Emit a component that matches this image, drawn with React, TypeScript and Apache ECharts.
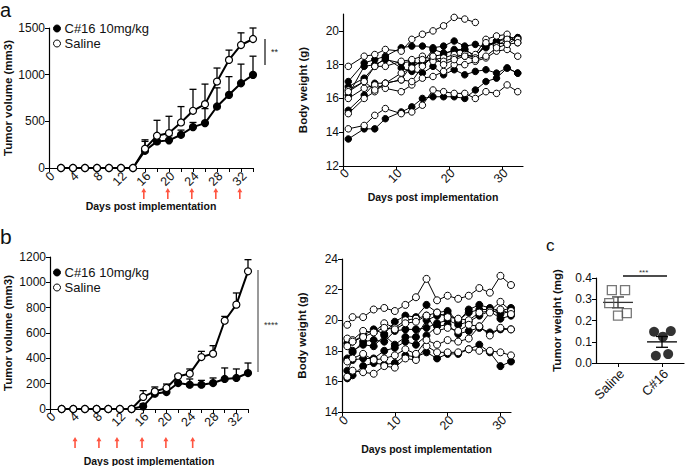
import React, { useEffect, useRef } from 'react';
import * as echarts from 'echarts';

const FONT = 'Liberation Sans, Arial, Helvetica, sans-serif';

// ---------- Panel a: tumor volume ----------
const tumorDays = [2, 4, 6, 8, 10, 12, 14, 16, 18, 20, 22, 24, 26, 28, 30, 32, 34];
const salineA = [0, 0, 0, 0, 0, 0, 0, 207, 346, 374, 488, 613, 684, 926, 1158, 1318, 1382];
const salineAErr = [0, 0, 0, 0, 0, 0, 0, 95, 165, 180, 170, 230, 215, 145, 105, 130, 118];
const c16A = [0, 0, 0, 0, 0, 0, 0, 185, 285, 296, 356, 438, 481, 659, 784, 908, 998];
const c16AErr = [0, 0, 0, 0, 0, 0, 0, 100, 60, 50, 50, 50, 155, 200, 195, 205, 200];
const arrowDaysA = [15.8, 19.8, 23.8, 27.8, 31.8];
const tumorLabels = [0, 4, 8, 12, 16, 20, 24, 28, 32];
const tumorTicks = [0, 2, 4, 6, 8, 10, 12, 14, 16, 18, 20, 22, 24, 26, 28, 30, 32, 34];
const bwLabels = [0, 10, 20, 30];

// ---------- Panel a: body weight ----------
const bwDaysA = [1, 4, 6, 8, 11, 13, 15, 17, 19, 21, 23, 25, 27, 29, 31, 33];
const bwSalineA = [
  [17.9, 18.5, 18.6, 18.9, 18.8, 19.5, 19.8, 20.0, 20.3, 20.8, 20.7, 20.5],
  [14.2, 14.4, 15.0, 15.4, 15.1, 15.2, 15.6, 16.5, 16.4, 16.3, 16.3, 16.0, 16.4, 16.3, 16.8, 16.4],
  [16.0, 16.6, 16.8, 16.6, 16.4, 16.8, 17.2, 17.3, 17.6, 18.0, 18.0, 18.2, 18.4, 18.8, 18.9, 18.5],
  [16.5, 17.0, 17.9, 17.9, 18.2, 18.3, 18.5, 18.3, 18.4, 18.6, 18.5, 18.6, 19.5, 19.7, 19.8, 19.3],
  [15.1, 16.0, 16.4, 16.9, 17.5, 17.8, 18.3, 18.2, 18.2, 18.4, 18.6, 18.4, 19.3, 19.1, 19.5, 19.5],
  [16.4, 17.0, 16.5, 16.9, 17.1, 17.0, 17.9, 18.5, 18.0, 18.3, 18.5, 18.3, 18.5, 19.0, 19.2, 19.3],
];
const bwC16A = [
  [13.6, 14.2, 14.2, 14.8, 15.2, 15.5, 16.0, 16.1, 16.1, 16.1, 16.0, 16.5, 17.0, 17.2, 17.8, 17.5],
  [17.0, 18.1, 18.3, 18.5, 19.0, 19.1, 19.1, 19.0, 19.1, 19.4, 19.1, 19.2, 19.0, 19.4, 19.6, 19.6],
  [16.7, 17.2, 17.9, 18.4, 17.8, 17.6, 17.5, 17.9, 17.4, 17.7, 17.4, 17.6, 17.7, 17.5, 17.8, 17.5],
  [15.3, 16.2, 16.9, 16.9, 17.1, 18.0, 18.1, 18.9, 18.7, 18.8, 18.9, 18.5, 19.2, 19.3, 19.2, 19.6],
  [16.2, 17.9, 18.0, 18.3, 18.1, 18.2, 18.0, 18.5, 18.6, 18.9, 18.9, 18.5, 19.1, 19.4, 19.5, 19.5],
];

// ---------- Panel b: tumor volume ----------
const salineB = [0, 0, 0, 0, 0, 0, 0, 95, 139, 166, 258, 279, 410, 437, 697, 824, 1087];
const salineBErr = [0, 0, 0, 0, 0, 0, 0, 50, 35, 31, 12, 37, 45, 63, 34, 92, 92];
const c16B = [0, 0, 0, 0, 0, 0, 0, 21, 121, 134, 205, 192, 192, 205, 237, 245, 284];
const c16BErr = [0, 0, 0, 0, 0, 0, 0, 20, 20, 30, 10, 45, 34, 40, 87, 71, 79];
const arrowDaysB = [4.3, 8.4, 11.5, 15.8, 19.9, 24.5];

// ---------- Panel b: body weight ----------
const bwDaysB = [1, 2, 4, 6, 8, 10, 12, 14, 16, 18, 20, 22, 24, 26, 28, 30, 32];
const bwSalineB = [
  [19.7, 20.2, 20.2, 20.7, 20.8, 20.6, 21.0, 21.5, 22.7, 21.3, 21.6, 21.4, 21.6, 22.1, 21.8, 22.9, 22.3],
  [18.8, 18.7, 19.3, 19.2, 19.8, 19.5, 20.0, 20.1, 20.3, 20.5, 20.2, 20.1, 20.0, 20.5, 20.6, 21.2, 20.6],
  [16.3, 16.7, 16.6, 16.5, 17.0, 16.9, 17.5, 17.4, 18.3, 17.9, 17.9, 17.9, 18.1, 18.0, 18.0, 17.9, 17.7],
  [17.3, 17.5, 17.8, 17.4, 17.5, 17.7, 18.1, 17.8, 18.7, 18.4, 18.7, 18.6, 18.8, 19.6, 19.0, 19.5, 19.4],
  [18.3, 18.6, 18.9, 19.2, 19.5, 19.4, 19.8, 19.9, 20.3, 19.3, 19.5, 19.3, 19.7, 19.6, 20.5, 20.7, 20.4],
];
const bwC16B = [
  [16.2, 16.4, 17.0, 17.2, 17.1, 17.2, 17.7, 17.6, 17.9, 17.5, 17.8, 17.8, 18.1, 18.4, 17.9, 17.0, 17.3],
  [16.7, 17.4, 17.5, 17.5, 18.0, 18.2, 18.6, 18.4, 19.0, 19.6, 19.7, 19.1, 19.3, 19.5, 19.2, 19.4, 19.4],
  [17.5, 17.9, 18.6, 18.7, 18.6, 19.3, 19.4, 19.4, 19.5, 19.8, 20.0, 19.7, 19.9, 20.3, 20.6, 20.1, 20.3],
  [18.5, 18.6, 19.0, 19.4, 19.1, 19.9, 20.3, 20.2, 21.0, 20.5, 20.6, 19.9, 20.7, 21.0, 20.8, 20.6, 20.8],
  [17.4, 18.0, 18.4, 18.3, 19.0, 18.4, 18.9, 18.9, 20.0, 20.3, 20.4, 20.0, 20.5, 20.7, 20.7, 20.4, 20.6],
];

// ---------- Panel c: tumor weight ----------
const groupsC = ['Saline', 'C#16'];
const salineWeights = [0.343, 0.343, 0.282, 0.223, 0.235];
const salineJitter = [-0.14, 0.16, -0.2, 0.0, 0.2];
const c16Weights = [0.147, 0.124, 0.15, 0.034, 0.042];
const c16Jitter = [-0.18, 0.02, 0.2, -0.14, 0.14];

const mean = (a: number[]) => a.reduce((s, v) => s + v, 0) / a.length;
const sem = (a: number[]) => {
  const m = mean(a);
  const sd = Math.sqrt(a.reduce((s, v) => s + (v - m) * (v - m), 0) / (a.length - 1));
  return sd / Math.sqrt(a.length);
};

const axisText = { color: '#111', fontFamily: FONT, fontSize: 12 };
const nameText = { color: '#111', fontFamily: FONT, fontSize: 10.5, fontWeight: 'bold' as const };
const yNameText = { color: '#111', fontFamily: FONT, fontSize: 11.5, fontWeight: 'bold' as const };
const axisLineStyle = { show: true, onZero: false, lineStyle: { color: '#000', width: 1.2 } };

function errRender(params: any, api: any) {
  const x = api.value(0);
  const y = api.value(1);
  const e = api.value(2);
  if (!e) return { type: 'group', children: [] };
  const p1 = api.coord([x, y]);
  const p2 = api.coord([x, y + e]);
  const st = { stroke: '#000', lineWidth: 1.3 };
  return {
    type: 'group',
    children: [
      { type: 'line', shape: { x1: p1[0], y1: p1[1], x2: p2[0], y2: p2[1] }, style: st },
      { type: 'line', shape: { x1: p2[0] - 3.5, y1: p2[1], x2: p2[0] + 3.5, y2: p2[1] }, style: st },
    ],
  };
}

function meanSemRender(params: any, api: any) {
  const x = api.value(0);
  const m = api.value(1);
  const s = api.value(2);
  const color = params.dataIndex === 0 ? '#333' : '#000';
  const st = { stroke: color, lineWidth: 1.3 };
  const l = api.coord([x - 0.34, m]);
  const r = api.coord([x + 0.34, m]);
  const top = api.coord([x, m + s]);
  const bot = api.coord([x, m - s]);
  const cw = 6;
  return {
    type: 'group',
    children: [
      { type: 'line', shape: { x1: l[0], y1: l[1], x2: r[0], y2: r[1] }, style: st },
      { type: 'line', shape: { x1: top[0], y1: top[1], x2: bot[0], y2: bot[1] }, style: st },
      { type: 'line', shape: { x1: top[0] - cw, y1: top[1], x2: top[0] + cw, y2: top[1] }, style: st },
      { type: 'line', shape: { x1: bot[0] - cw, y1: bot[1], x2: bot[0] + cw, y2: bot[1] }, style: st },
    ],
  };
}

const arrowPath = 'path://M5,0 L10,6 L6.6,6 L6.6,16 L3.4,16 L3.4,6 L0,6 Z';

export default function App() {
  const ref = useRef<HTMLDivElement>(null);
  useEffect(() => {
    document.body.style.margin = '0';
    if (!ref.current) return;
    const chart = echarts.init(ref.current, undefined, { renderer: 'svg' });

    const grid = (left: number, top: number, width: number, height: number) => ({
      left, top, width, height, containLabel: false, outerBoundsMode: 'none',
    });

    const xAxisDef = (gridIndex: number, min: number, max: number, ticks: number[], name: string, nameGap: number) => ({
      type: 'value', gridIndex, min, max,
      name, nameLocation: 'middle', nameGap, nameTextStyle: nameText,
      axisLine: axisLineStyle,
      axisTick: { show: true, length: 4, customValues: ticks, lineStyle: { color: '#000', width: 1 } },
      axisLabel: { show: false },
      splitLine: { show: false },
    });

    const yAxis = (gridIndex: number, min: number, max: number, labels: number[], name: string, nameGap: number, fmt: (v: number) => string) => ({
      type: 'value', gridIndex, min, max,
      name, nameLocation: 'middle', nameGap, nameTextStyle: yNameText,
      axisLine: axisLineStyle,
      axisTick: { show: true, length: 4, customValues: labels, lineStyle: { color: '#000', width: 1 } },
      axisLabel: { ...axisText, margin: 4, customValues: labels, formatter: fmt },
      splitLine: { show: false },
    });
    const plain = (v: number) => String(v);

    const tumorLine = (name: string, data: number[], filled: boolean, xi: number, yi: number) => ({
      type: 'line', name, xAxisIndex: xi, yAxisIndex: yi,
      data: tumorDays.map((d, i) => [d, data[i]]),
      symbol: 'circle', symbolSize: 7, z: filled ? 3 : 4,
      lineStyle: { color: '#000', width: 2 },
      itemStyle: { color: filled ? '#000' : '#fff', borderColor: '#000', borderWidth: 1.2 },
      emphasis: { disabled: true },
    });

    const errSeries = (data: number[], err: number[], xi: number, yi: number) => ({
      type: 'custom', xAxisIndex: xi, yAxisIndex: yi, z: 2,
      data: tumorDays.map((d, i) => [d, data[i], err[i]]),
      encode: { x: 0, y: 1 },
      renderItem: errRender,
    });

    const bwLine = (days: number[], vals: number[], filled: boolean, xi: number, yi: number, size: number) => ({
      type: 'line', xAxisIndex: xi, yAxisIndex: yi,
      data: vals.map((v, i) => [days[i], v]),
      symbol: 'circle', symbolSize: size, z: filled ? 3 : 4,
      lineStyle: { color: '#000', width: 1 },
      itemStyle: { color: filled ? '#000' : '#fff', borderColor: '#000', borderWidth: 1 },
      emphasis: { disabled: true },
    });

    const arrowSeries = (days: number[], xi: number, yi: number) => ({
      type: 'scatter', xAxisIndex: xi, yAxisIndex: yi,
      data: days.map((d) => [d, 0.5]),
      symbol: arrowPath, symbolSize: [5, 11],
      itemStyle: { color: '#ff2a12' },
      emphasis: { disabled: true },
    });

    // Rotated (45°) tick labels drawn at the x axis' own tick positions.
    const tickLabelSeries = (
      xi: number, yi: number, yMin: number, values: number[],
      fmt: (v: number) => string, dx: number, dy: number, size: number,
    ) => ({
      type: 'custom', xAxisIndex: xi, yAxisIndex: yi, z: 10, silent: true, clip: false,
      data: values.map((v) => [v, yMin]),
      encode: { x: 0, y: 1 },
      renderItem: (params: any, api: any) => {
        const v = api.value(0);
        const p = api.coord([v, yMin]);
        return {
          type: 'text',
          x: p[0] + dx,
          y: p[1] + dy,
          rotation: Math.PI / 4,
          style: {
            text: fmt(v),
            font: `${size}px ${FONT}`,
            fill: '#111',
            align: 'right',
            verticalAlign: 'middle',
          },
        };
      },
    });

    const hiddenX = (gridIndex: number) => ({ type: 'value', gridIndex, min: 0, max: 34, show: false });
    const hiddenY = (gridIndex: number) => ({ type: 'value', gridIndex, min: 0, max: 1, show: false });

    const legendData = [
      { name: 'C#16 10mg/kg', itemStyle: { color: '#000', borderColor: '#000', borderWidth: 1 } },
      { name: 'Saline', itemStyle: { color: '#fff', borderColor: '#000', borderWidth: 1 } },
    ];
    const legendBase = {
      orient: 'vertical', padding: 0, itemGap: 2, itemWidth: 7, itemHeight: 7, icon: 'circle',
      selectedMode: false,
      textStyle: { fontFamily: FONT, fontSize: 13, color: '#111', padding: [0, 0, 0, -1] },
      data: legendData,
    };

    const DAYS = 'Days post implementation';

    const option: any = {
      animation: false,
      backgroundColor: '#fff',
      textStyle: { fontFamily: FONT },
      grid: [
        grid(49, 28, 204, 140),   // 0 a tumor
        grid(343, 14, 180, 152),  // 1 a body weight
        grid(50, 257, 198, 152),  // 2 b tumor
        grid(342, 259, 169, 153), // 3 b body weight
        grid(596, 278, 88, 85),   // 4 c
        grid(49, 188, 204, 11),   // 5 a arrows
        grid(50, 437, 198, 11),   // 6 b arrows
      ],
      xAxis: [
        xAxisDef(0, 0, 34, tumorTicks, DAYS, 32),
        xAxisDef(1, 0, 34, bwLabels, DAYS, 25),
        xAxisDef(2, 0, 34, tumorTicks, DAYS, 46),
        xAxisDef(3, 0, 32, bwLabels, DAYS, 31),
        xAxisDef(4, -0.5, 1.5, [0, 1], '', 0),
        hiddenX(5),
        hiddenX(6),
      ],
      yAxis: [
        yAxis(0, 0, 1500, [0, 500, 1000, 1500], 'Tumor volume (mm3)', 33, plain),
        yAxis(1, 12, 21, [12, 14, 16, 18, 20], 'Body weight (g)', 34, plain),
        yAxis(2, 0, 1200, [0, 200, 400, 600, 800, 1000, 1200], 'Tumor volume (mm3)', 36, plain),
        yAxis(3, 14, 24, [14, 16, 18, 20, 22, 24], 'Body weight (g)', 34, plain),
        yAxis(4, 0, 0.4, [0, 0.1, 0.2, 0.3, 0.4], 'Tumor weight (mg)', 33, (v: number) => v.toFixed(1)),
        hiddenY(5),
        hiddenY(6),
      ],
      legend: [
        { ...legendBase, left: 53, top: 22 },
        { ...legendBase, left: 53, top: 266 },
      ],
      series: [
        errSeries(c16A, c16AErr, 0, 0),
        errSeries(salineA, salineAErr, 0, 0),
        tumorLine('C#16 10mg/kg', c16A, true, 0, 0),
        tumorLine('Saline', salineA, false, 0, 0),
        ...bwC16A.map((v) => bwLine(bwDaysA, v, true, 1, 1, 6.5)),
        ...bwSalineA.map((v) => bwLine(bwDaysA, v, false, 1, 1, 6.5)),
        errSeries(c16B, c16BErr, 2, 2),
        errSeries(salineB, salineBErr, 2, 2),
        tumorLine('C#16 10mg/kg', c16B, true, 2, 2),
        tumorLine('Saline', salineB, false, 2, 2),
        ...bwC16B.map((v) => bwLine(bwDaysB, v, true, 3, 3, 7)),
        ...bwSalineB.map((v) => bwLine(bwDaysB, v, false, 3, 3, 7)),
        {
          type: 'custom', xAxisIndex: 4, yAxisIndex: 4, z: 2,
          data: [
            [0, mean(salineWeights), sem(salineWeights)],
            [1, mean(c16Weights), sem(c16Weights)],
          ],
          encode: { x: 0, y: 1 },
          renderItem: meanSemRender,
        },
        {
          type: 'scatter', xAxisIndex: 4, yAxisIndex: 4, z: 3,
          data: salineWeights.map((w, i) => [0 + salineJitter[i], w]),
          symbol: 'rect', symbolSize: 9,
          itemStyle: { color: 'rgba(255,255,255,0)', borderColor: '#555', borderWidth: 1.3 },
          emphasis: { disabled: true },
        },
        {
          type: 'scatter', xAxisIndex: 4, yAxisIndex: 4, z: 3,
          data: c16Weights.map((w, i) => [1 + c16Jitter[i], w]),
          symbol: 'circle', symbolSize: 10,
          itemStyle: { color: '#000' },
          emphasis: { disabled: true },
        },
        arrowSeries(arrowDaysA, 5, 5),
        arrowSeries(arrowDaysB, 6, 6),
        tickLabelSeries(0, 0, 0, tumorLabels, plain, 3.5, 6, 12.5),
        tickLabelSeries(1, 1, 12, bwLabels, plain, 4, 5, 12.5),
        tickLabelSeries(2, 2, 0, tumorLabels, plain, 3.5, 5.5, 12.5),
        tickLabelSeries(3, 3, 14, bwLabels, plain, 4, 6, 12.5),
        tickLabelSeries(4, 4, 0, [0, 1], (v: number) => groupsC[Math.round(v)], 4, 8.5, 13),
      ],
      graphic: [
        { type: 'text', left: 0, top: 0, style: { text: 'a', font: `20px ${FONT}`, fill: '#111' } },
        { type: 'text', left: 0, top: 226, style: { text: 'b', font: `21px ${FONT}`, fill: '#111' } },
        { type: 'text', left: 546, top: 237, style: { text: 'c', font: `17px ${FONT}`, fill: '#111' } },
        { type: 'line', shape: { x1: 265, y1: 39, x2: 265, y2: 65 }, style: { stroke: '#222', lineWidth: 1.3 } },
        { type: 'text', left: 271, top: 47, style: { text: '**', font: `9px ${FONT}`, fill: '#222' } },
        { type: 'line', shape: { x1: 258, y1: 270, x2: 258, y2: 372 }, style: { stroke: '#777', lineWidth: 1.5 } },
        { type: 'text', left: 264, top: 320, style: { text: '****', font: `9px ${FONT}`, fill: '#333' } },
        { type: 'line', shape: { x1: 623, y1: 276, x2: 667, y2: 276 }, style: { stroke: '#111', lineWidth: 1.5 } },
        { type: 'text', left: 639, top: 268, style: { text: '***', font: `8px ${FONT}`, fill: '#333' } },
      ],
    };

    chart.setOption(option);
    return () => chart.dispose();
  }, []);

  return <div ref={ref} style={{ width: 685, height: 466 }} />;
}
